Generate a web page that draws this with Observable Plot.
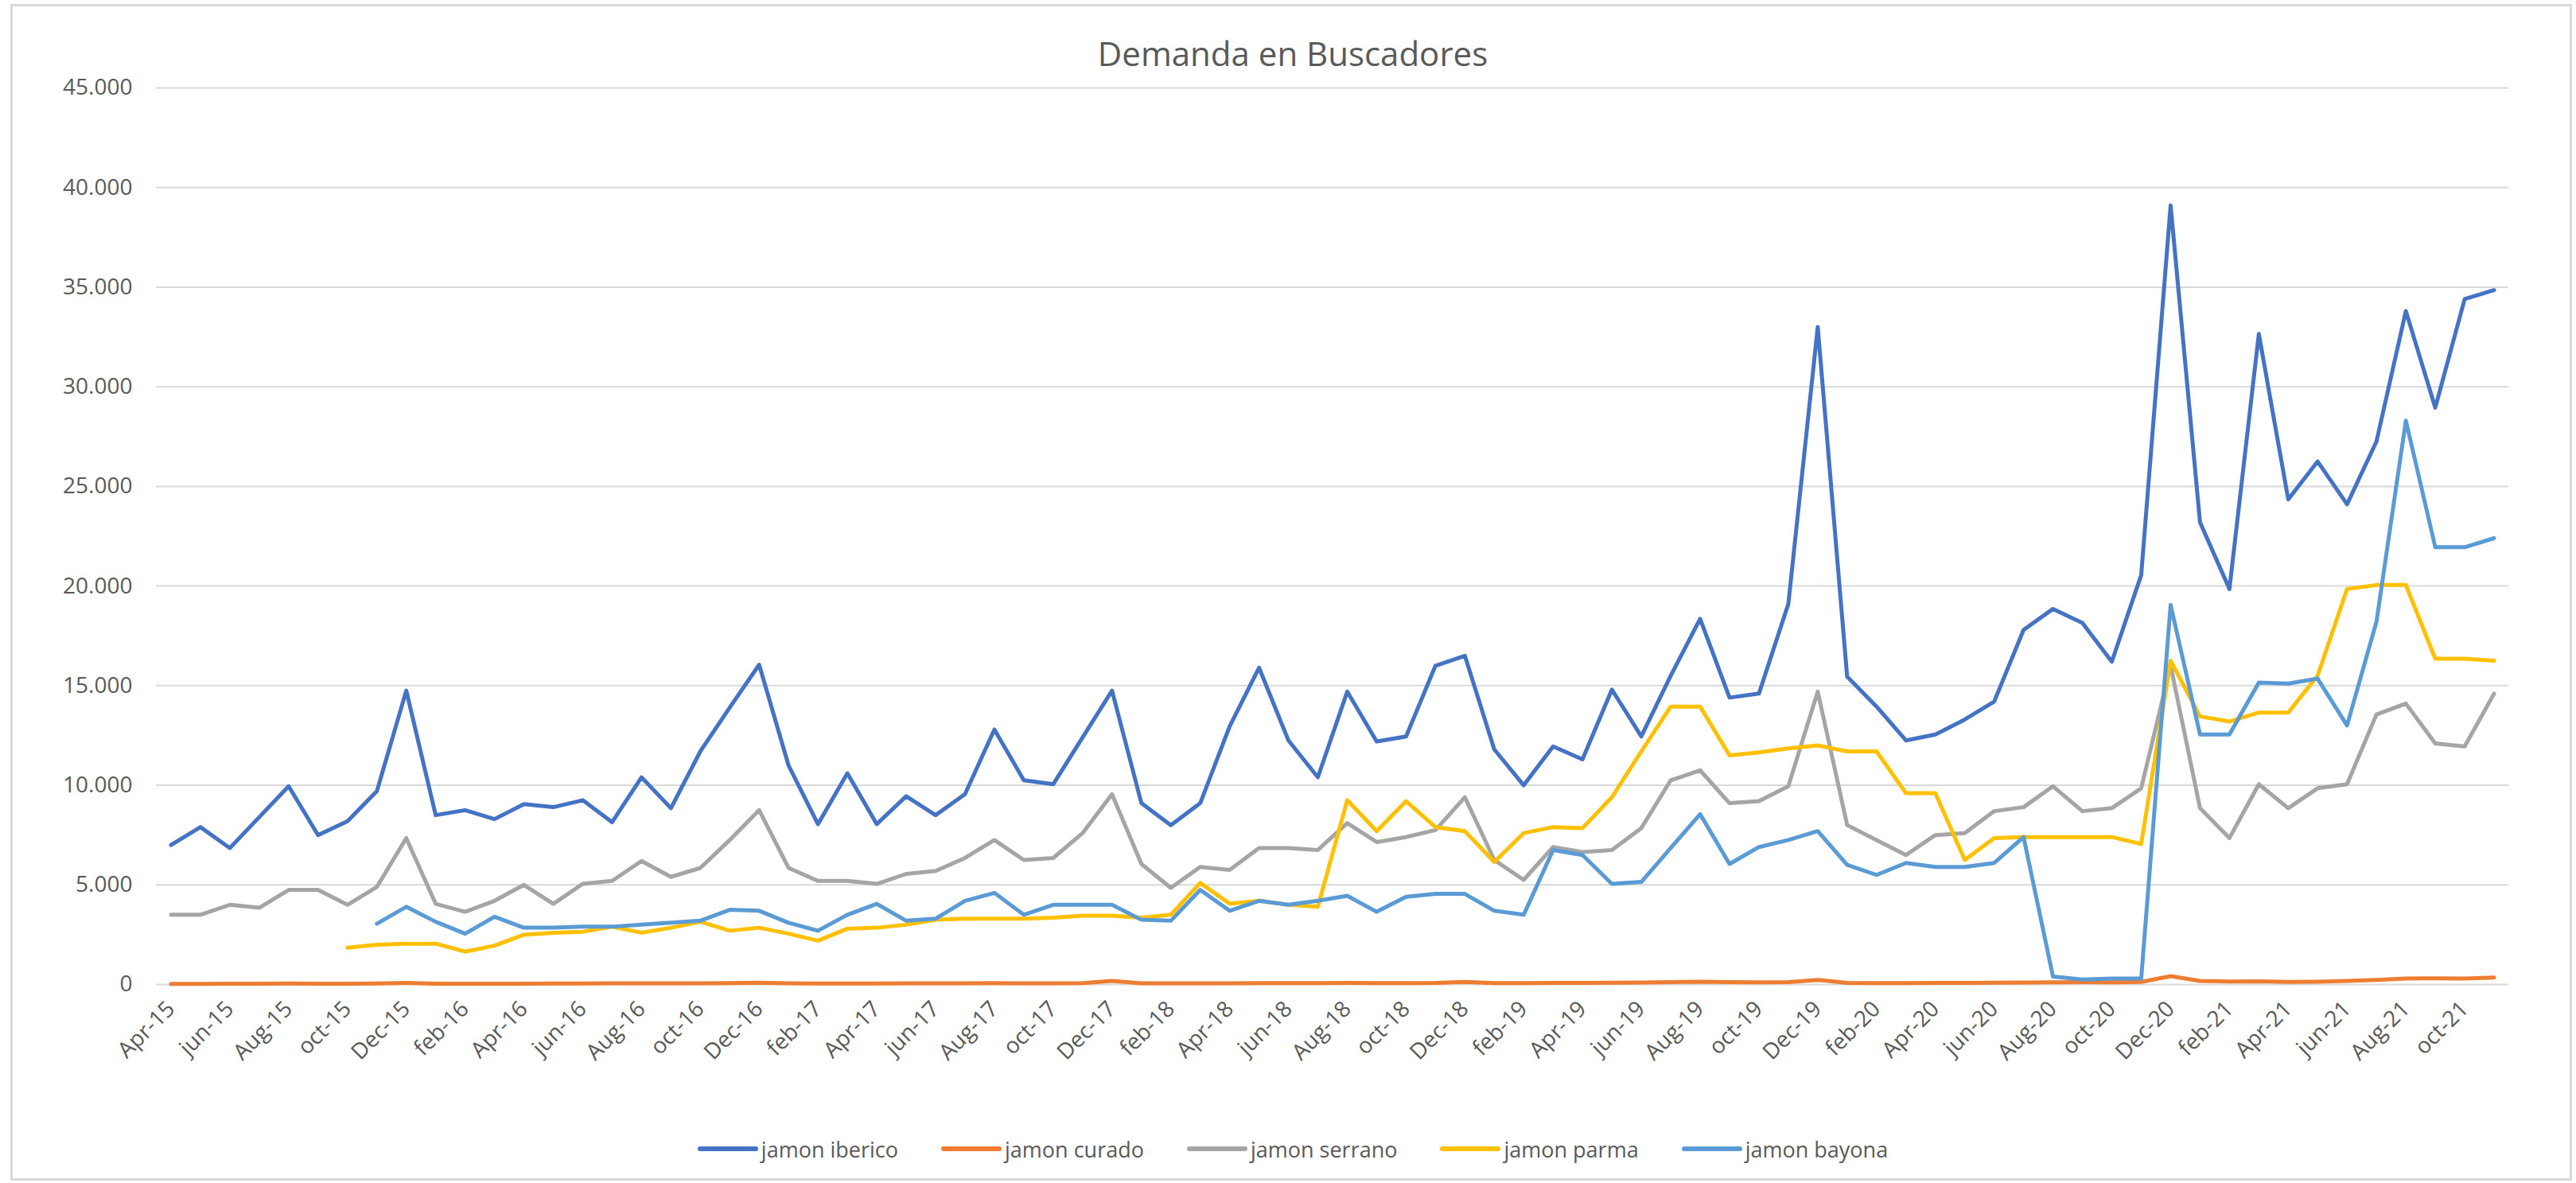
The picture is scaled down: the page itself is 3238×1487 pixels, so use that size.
<!DOCTYPE html>
<html>
<head>
<meta charset="utf-8">
<script src="https://cdn.jsdelivr.net/npm/d3@7"></script>
<script src="https://cdn.jsdelivr.net/npm/@observablehq/plot@0.6"></script>
<style>
  html, body { margin: 0; padding: 0; background: #fff; }
  #chart { position: relative; width: 3238px; height: 1487px; overflow: hidden; font-family: "Open Sans", sans-serif; background: #fff; }
  #frame { position: absolute; left: 13px; top: 5px; width: 3220px; height: 1479px; border: 3px solid #D9D9D9; box-sizing: border-box; }
  #title { position: absolute; left: 6px; width: 3238px; top: 38px; line-height: 57px; text-align: center; font-size: 42px; color: #595959; }
  #plot { position: absolute; left: 0; top: 90px; }
  #legend { position: absolute; left: 6px; width: 3238px; top: 1422px; height: 44px; display: flex; justify-content: center; align-items: center; gap: 54px; font-size: 27px; color: #595959; }
  .item { display: flex; align-items: center; gap: 4px; }
  .sw { display: inline-block; width: 76px; height: 6px; border-radius: 3px; }
</style>
</head>
<body>
<div id="chart">
  <div id="frame"></div>
  <div id="title">Demanda en Buscadores</div>
  <div id="plot"></div>
  <div id="legend"></div>
</div>
<script>
// Categories (Apr-15 .. Nov-21)
const months = [
  "Apr-15","may-15","jun-15","jul-15","Aug-15","sep-15","oct-15","nov-15","Dec-15",
  "Jan-16","feb-16","mar-16","Apr-16","may-16","jun-16","jul-16","Aug-16","sep-16","oct-16","nov-16","Dec-16",
  "Jan-17","feb-17","mar-17","Apr-17","may-17","jun-17","jul-17","Aug-17","sep-17","oct-17","nov-17","Dec-17",
  "Jan-18","feb-18","mar-18","Apr-18","may-18","jun-18","jul-18","Aug-18","sep-18","oct-18","nov-18","Dec-18",
  "Jan-19","feb-19","mar-19","Apr-19","may-19","jun-19","jul-19","Aug-19","sep-19","oct-19","nov-19","Dec-19",
  "Jan-20","feb-20","mar-20","Apr-20","may-20","jun-20","jul-20","Aug-20","sep-20","oct-20","nov-20","Dec-20",
  "Jan-21","feb-21","mar-21","Apr-21","may-21","jun-21","jul-21","Aug-21","sep-21","oct-21","nov-21"
];
// Tick labels shown on the axis (every other month)
const tickLabels = [
  "Apr-15","jun-15","Aug-15","oct-15","Dec-15","feb-16","Apr-16","jun-16","Aug-16","oct-16","Dec-16",
  "feb-17","Apr-17","jun-17","Aug-17","oct-17","Dec-17","feb-18","Apr-18","jun-18","Aug-18","oct-18","Dec-18",
  "feb-19","Apr-19","jun-19","Aug-19","oct-19","Dec-19","feb-20","Apr-20","jun-20","Aug-20","oct-20","Dec-20",
  "feb-21","Apr-21","jun-21","Aug-21","oct-21"
];
const yTicks = [0, 5000, 10000, 15000, 20000, 25000, 30000, 35000, 40000, 45000];

const seriesNames = ["jamon iberico", "jamon curado", "jamon serrano", "jamon parma", "jamon bayona"];
const seriesColors = ["#4472C4", "#ED7D31", "#A5A5A5", "#FFC000", "#5B9BD5"];

const iberico = [
  7000, 7900, 6850, 8400, 9950, 7500, 8200, 9700, 14750,
  8500, 8750, 8300, 9050, 8900, 9250, 8150, 10400, 8850, 11700, 13900, 16050,
  11000, 8050, 10600, 8050, 9450, 8500, 9550, 12800, 10250, 10050, 12400, 14750,
  9100, 8000, 9100, 12950, 15900, 12250, 10400, 14700, 12200, 12450, 16000, 16500,
  11800, 10000, 11950, 11300, 14800, 12450, 15500, 18350, 14400, 14600, 19100, 33000,
  15450, 13950, 12250, 12550, 13300, 14200, 17800, 18850, 18150, 16200, 20550, 39100,
  23200, 19850, 32650, 24350, 26250, 24100, 27250, 33800, 28950, 34400, 34850
];
const curado = [
  30, 30, 40, 40, 50, 40, 40, 50, 80,
  40, 40, 40, 40, 50, 50, 60, 60, 60, 60, 70, 90,
  60, 50, 50, 50, 60, 60, 60, 70, 60, 60, 70, 180,
  60, 60, 60, 60, 70, 70, 70, 80, 70, 70, 80, 130,
  70, 70, 80, 80, 90, 100, 120, 140, 120, 110, 120, 230,
  80, 70, 70, 80, 80, 90, 100, 110, 120, 110, 130, 420,
  180, 150, 160, 130, 140, 180, 230, 300, 310, 300, 350
];
const serrano = [
  3500, 3500, 4000, 3850, 4750, 4750, 4000, 4900, 7350,
  4050, 3650, 4200, 5000, 4050, 5050, 5200, 6200, 5400, 5850, 7250, 8750,
  5850, 5200, 5200, 5050, 5550, 5700, 6350, 7250, 6250, 6350, 7600, 9550,
  6050, 4850, 5900, 5750, 6850, 6850, 6750, 8100, 7150, 7400, 7750, 9400,
  6250, 5250, 6900, 6650, 6750, 7850, 10250, 10750, 9100, 9200, 9950, 14700,
  8000, 7250, 6500, 7500, 7600, 8700, 8900, 9950, 8700, 8850, 9850, 16000,
  8850, 7350, 10050, 8850, 9850, 10050, 13550, 14100, 12100, 11950, 14600
];
const parma = [
  null, null, null, null, null, null, 1850, 2000, 2050,
  2050, 1650, 1950, 2500, 2600, 2650, 2900, 2600, 2850, 3150, 2700, 2850,
  2550, 2200, 2800, 2850, 3000, 3250, 3300, 3300, 3300, 3350, 3450, 3450,
  3350, 3500, 5100, 4050, 4200, 4000, 3900, 9250, 7700, 9200, 7900, 7700,
  6150, 7600, 7900, 7850, 9400, 11700, 13950, 13950, 11500, 11650, 11850, 12000,
  11700, 11700, 9600, 9600, 6250, 7350, 7400, 7400, 7400, 7400, 7050, 16250,
  13450, 13200, 13650, 13650, 15500, 19850, 20050, 20050, 16350, 16350, 16250
];
const bayona = [
  null, null, null, null, null, null, null, 3050, 3900,
  3150, 2550, 3400, 2850, 2850, 2900, 2900, 3000, 3100, 3200, 3750, 3700,
  3100, 2700, 3500, 4050, 3200, 3300, 4200, 4600, 3500, 4000, 4000, 4000,
  3250, 3200, 4750, 3700, 4200, 4000, 4200, 4450, 3650, 4400, 4550, 4550,
  3700, 3500, 6750, 6500, 5050, 5150, 6850, 8550, 6050, 6900, 7250, 7700,
  6000, 5500, 6100, 5900, 5900, 6100, 7400, 400, 250, 300, 300, 19050,
  12550, 12550, 15150, 15100, 15350, 13000, 18200, 28300, 21950, 21950, 22400
];

const seriesValues = [iberico, curado, serrano, parma, bayona];
const rows = seriesNames.flatMap((name, k) =>
  seriesValues[k]
    .map((v, i) => ({ month: months[i], value: v, serie: name }))
    .filter(d => d.value != null)
);

const loc = d3.formatLocale({ decimal: ",", thousands: ".", grouping: [3], currency: ["", ""] });
const fmt = loc.format(",");

const chart = Plot.plot({
  width: 3238,
  height: 1290,
  marginLeft: 196,
  marginRight: 85,
  marginTop: 20,
  marginBottom: 143,
  style: { fontFamily: "Open Sans, sans-serif", fontSize: "28px", color: "#595959", background: "transparent", overflow: "visible" },
  x: { type: "point", domain: months, padding: 0.5, align: 0.5 },
  y: { domain: [0, 45000] },
  color: { domain: seriesNames, range: seriesColors },
  marks: [
    Plot.ruleY(yTicks, { stroke: "#D9D9D9", strokeWidth: 2 }),
    Plot.axisY(yTicks, { tickSize: 0, tickPadding: 30, tickFormat: d => fmt(d), label: null, fill: "#595959", fontSize: 28 }),
    Plot.axisX(tickLabels, { tickSize: 0, tickPadding: 26, tickRotate: -45, label: null, fill: "#595959", fontSize: 28 }),
    Plot.line(rows, { x: "month", y: "value", z: "serie", stroke: "serie", strokeWidth: 5, strokeLinejoin: "round", strokeLinecap: "round" })
  ]
});
document.getElementById("plot").appendChild(chart);

const legend = document.getElementById("legend");
seriesNames.forEach((name, k) => {
  const item = document.createElement("div");
  item.className = "item";
  const sw = document.createElement("span");
  sw.className = "sw";
  sw.style.background = seriesColors[k];
  const tx = document.createElement("span");
  tx.textContent = name;
  item.appendChild(sw);
  item.appendChild(tx);
  legend.appendChild(item);
});
</script>
</body>
</html>
